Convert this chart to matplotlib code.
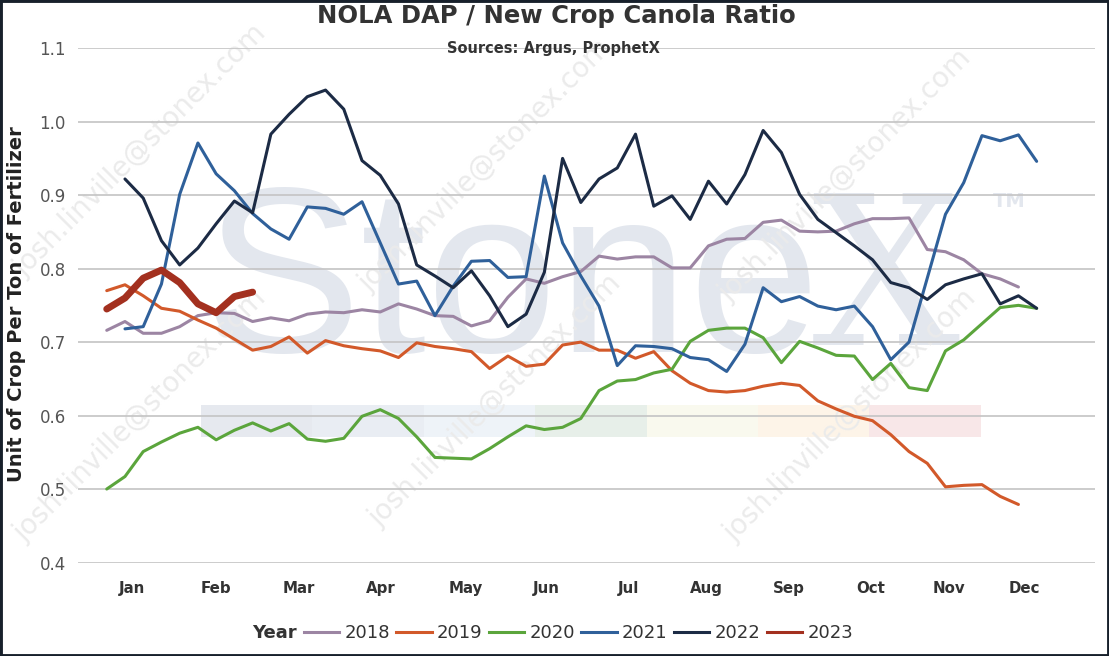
import numpy as np
import matplotlib
matplotlib.use('Agg')
import matplotlib.pyplot as plt
from matplotlib.patches import Rectangle
from matplotlib.lines import Line2D

nan = np.nan

# ---------------- data ----------------
months = ['Jan', 'Feb', 'Mar', 'Apr', 'May', 'Jun', 'Jul', 'Aug', 'Sep', 'Oct', 'Nov', 'Dec']
month_pos = [1.4, 6.0, 10.55, 15.05, 19.7, 24.1, 28.6, 32.9, 37.4, 41.9, 46.2, 50.3]
years = ['2018', '2019', '2020', '2021', '2022', '2023']

y2018 = [0.716, 0.728, 0.712, 0.712, 0.721, 0.736, 0.740, 0.739, 0.728, 0.733,
         0.729, 0.738, 0.741, 0.740, 0.744, 0.741, 0.752, 0.745, 0.736, 0.735,
         0.722, 0.729, 0.761, 0.786, 0.780, 0.789, 0.796, 0.817, 0.813, 0.816,
         0.816, 0.801, 0.801, 0.831, 0.840, 0.841, 0.863, 0.866, 0.851, 0.850,
         0.851, 0.861, 0.868, 0.868, 0.869, 0.826, 0.823, 0.812, 0.793, 0.786,
         0.775]
y2019 = [0.770, 0.778, 0.763, 0.746, 0.742, 0.730, 0.719, 0.704, 0.689, 0.694,
         0.707, 0.685, 0.702, 0.695, 0.691, 0.688, 0.679, 0.699, 0.694, 0.691,
         0.687, 0.664, 0.681, 0.667, 0.670, 0.696, 0.700, 0.689, 0.689, 0.678,
         0.687, 0.661, 0.644, 0.634, 0.632, 0.634, 0.640, 0.644, 0.641, 0.620,
         0.609, 0.599, 0.593, 0.574, 0.551, 0.535, 0.503, 0.505, 0.506, 0.490,
         0.479]
y2020 = [0.500, 0.517, 0.551, 0.564, 0.576, 0.584, 0.567, 0.580, 0.590, 0.579,
         0.589, 0.568, 0.565, 0.569, 0.599, 0.608, 0.596, 0.571, 0.543, 0.542,
         0.541, 0.555, 0.571, 0.586, 0.581, 0.584, 0.596, 0.634, 0.647, 0.649,
         0.658, 0.663, 0.701, 0.716, 0.719, 0.719, 0.706, 0.672, 0.701, 0.692,
         0.682, 0.681, 0.649, 0.671, 0.638, 0.634, 0.688, 0.703, 0.725, 0.747,
         0.750, 0.746]
y2021 = [nan, 0.718, 0.721, 0.779, 0.901, 0.971, 0.929, 0.906, 0.875, 0.854,
         0.840, 0.884, 0.882, 0.874, 0.891, 0.835, 0.779, 0.783, 0.736, 0.776,
         0.810, 0.811, 0.788, 0.789, 0.926, 0.835, 0.790, 0.749, 0.668, 0.695,
         0.694, 0.691, 0.679, 0.676, 0.660, 0.697, 0.774, 0.755, 0.762, 0.749,
         0.744, 0.749, 0.721, 0.676, 0.700, 0.787, 0.874, 0.917, 0.981, 0.974,
         0.982, 0.946]
y2022 = [nan, 0.922, 0.896, 0.838, 0.805, 0.828, 0.861, 0.892, 0.876, 0.983,
         1.010, 1.034, 1.043, 1.017, 0.947, 0.927, 0.888, 0.805, 0.790, 0.774,
         0.797, 0.763, 0.721, 0.738, 0.795, 0.950, 0.890, 0.922, 0.937, 0.983,
         0.885, 0.899, 0.867, 0.919, 0.888, 0.928, 0.988, 0.958, 0.901, 0.867,
         0.849, 0.831, 0.812, 0.781, 0.774, 0.758, 0.778, 0.786, 0.793, 0.752,
         0.763, 0.746]
y2023 = [0.745, 0.760, 0.787, 0.798, 0.781, 0.752, 0.740, 0.762, 0.768]

series = [y2018, y2019, y2020, y2021, y2022, y2023]
colors = ['#9c85a3', '#d2592a', '#5ba53c', '#2f609a', '#1c2b45', '#a3301f']
widths = [2.2, 2.2, 2.2, 2.2, 2.2, 5.0]

# ---------------- layout ----------------
W, H = 1109, 656
def fx(px):
    return px / W
def fy(py):
    return 1 - py / H

fig = plt.figure(figsize=(W / 100, H / 100), dpi=100)
fig.patch.set_facecolor('white')
ax = fig.add_axes([fx(78.3), fy(562.5), (1095 - 78.3) / W, (562.5 - 48.2) / H])
ax.set_xlim(-1.56, 54.2)
ax.set_ylim(0.4, 1.1)

# watermark: big logo text
wm = '#e3e7ee'
ax.text(fx(203), fy(352), 'Stone', transform=fig.transFigure, fontsize=170,
        family='Liberation Sans', color=wm, ha='left', va='baseline', zorder=0.1, clip_on=False)
ax.text(fx(812), fy(345), 'X', transform=fig.transFigure, fontsize=150,
        family='DejaVu Serif', color=wm, ha='left', va='baseline', zorder=0.1, clip_on=False)
ax.text(fx(993), fy(207), 'TM', transform=fig.transFigure, fontsize=14,
        fontweight='bold', color=wm, ha='left', va='baseline', zorder=0.1, clip_on=False)

# watermark: colored band
band_x = [200.7, 312.3, 424, 535, 646.7, 758.3, 869.3, 980.7]
band_c = ['#e6e9ef', '#e9edf3', '#eef3f8', '#e7efe9', '#f9f9ee', '#fdf4e8', '#f8e7e8']
for k in range(7):
    ax.add_patch(Rectangle((fx(band_x[k]), fy(436.7)), (band_x[k + 1] - band_x[k]) / W,
                           (436.7 - 405) / H, transform=fig.transFigure,
                           facecolor=band_c[k], edgecolor='none', zorder=0.2, clip_on=False))

# watermark: diagonal email
for cx, cy in [(140, 150), (485, 165), (845, 175),
               (140, 415), (495, 400), (850, 415)]:
    ax.text(fx(cx), fy(cy), 'josh.linville@stonex.com', transform=fig.transFigure,
            fontsize=20, color='#ebebeb', rotation=45, ha='center', va='center',
            rotation_mode='anchor', zorder=0.3, clip_on=False)

ax.set_axisbelow(True)
ax.yaxis.grid(True, color='#c4c4c4', lw=1.2)
ax.xaxis.grid(False)
for s in ax.spines.values():
    s.set_visible(False)
ax.patch.set_alpha(0)

for vals, c, lw in zip(series, colors, widths):
    x = np.arange(len(vals))
    ax.plot(x, vals, color=c, lw=lw, solid_joinstyle='round', solid_capstyle='round', zorder=2)

ax.set_yticks([0.4, 0.5, 0.6, 0.7, 0.8, 0.9, 1.0, 1.1])
ax.set_yticklabels(['0.4', '0.5', '0.6', '0.7', '0.8', '0.9', '1.0', '1.1'])
ax.set_xticks(month_pos)
ax.set_xticklabels(months, fontweight='bold')
ax.tick_params(axis='y', length=0, labelsize=12, labelcolor='#555555', pad=9)
ax.tick_params(axis='x', length=0, labelsize=10.8, labelcolor='#333333', pad=13)

# titles
fig.text(fx(556), fy(16.5), 'NOLA DAP / New Crop Canola Ratio', ha='center', va='center',
         fontsize=17.5, fontweight='bold', color='#333333')
fig.text(fx(553), fy(48), 'Sources: Argus, ProphetX', ha='center', va='center',
         fontsize=10.5, fontweight='bold', color='#333333')
fig.text(fx(17), fy(304.5), 'Unit of Crop Per Ton of Fertilizer', rotation=90,
         ha='center', va='center', fontsize=14, fontweight='bold', color='#222222')

# legend
handles = [Line2D([], [], color=c, lw=2.2) for c in colors]
fig.text(fx(274), fy(633), 'Year', ha='center', va='center', fontsize=13,
         fontweight='bold', color='#333333')
fig.legend(handles, years, loc='center left', bbox_to_anchor=(fx(304), fy(633)), ncol=6,
           frameon=False, fontsize=13, handlelength=1.95, handletextpad=0.3,
           columnspacing=0.35, borderpad=0, borderaxespad=0, labelcolor='#333333')

# outer frame
fig.patches.append(Rectangle((0, 0), 1, 1, transform=fig.transFigure, fill=False,
                             edgecolor='#17202b', lw=3.5))

fig.savefig('out.png', dpi=100)
